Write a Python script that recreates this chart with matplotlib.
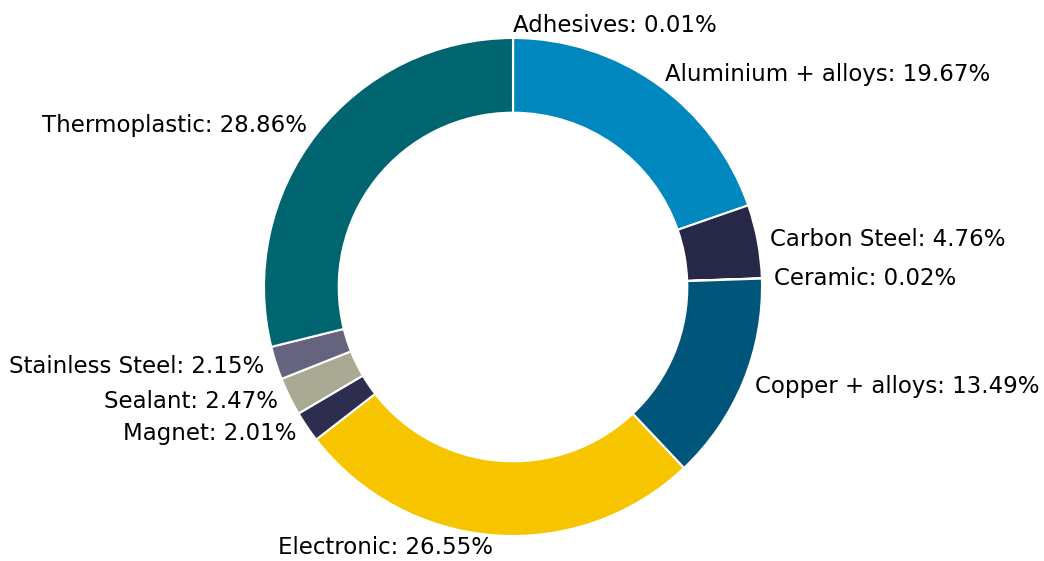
import matplotlib.pyplot as plt

materials = ["Adhesives", "Aluminium + alloys", "Carbon Steel", "Ceramic",
             "Copper + alloys", "Electronic", "Magnet", "Sealant",
             "Stainless Steel", "Thermoplastic"]
shares = [0.01, 19.67, 4.76, 0.02, 13.49, 26.55, 2.01, 2.47, 2.15, 28.86]
colors = ["#8a8a8a", "#0087be", "#272848", "#9a9a9a", "#00567a",
          "#f7c500", "#2d2d50", "#a9a994", "#65647e", "#00656e"]

labels = [f"{m}: {v:.2f}%" for m, v in zip(materials, shares)]

fig = plt.figure(figsize=(10.44, 5.61), dpi=100)
# place the donut: center (513, 287) px, radius 249 px
W, H = 1044, 561
cx, cy, r = 513, 287, 249
ax = fig.add_axes([(cx - r) / W, (H - cy - r) / H, 2 * r / W, 2 * r / H])

wedges, texts = ax.pie(shares, labels=labels, colors=colors, startangle=90,
                       counterclock=False, radius=1, labeldistance=1.05,
                       wedgeprops=dict(width=0.3, edgecolor="white", linewidth=1.5),
                       textprops=dict(fontsize=16.5, color="black"))
ax.set_xlim(-1, 1)
ax.set_ylim(-1, 1)
ax.set_aspect("equal")
ax.axis("off")

fig.savefig("out.png", dpi=100)
